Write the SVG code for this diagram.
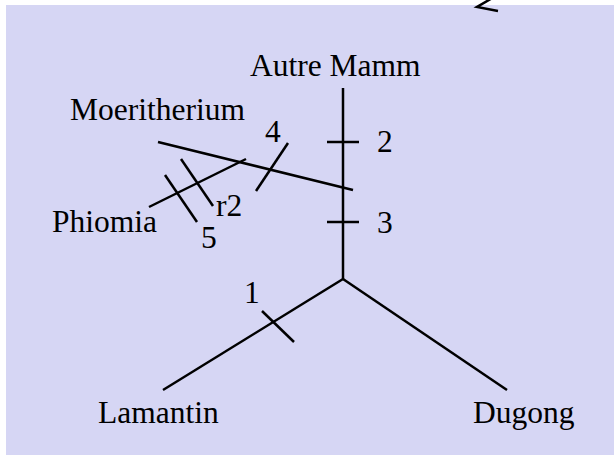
<svg xmlns="http://www.w3.org/2000/svg" width="615" height="455" viewBox="0 0 615 455">
<style>
.bg{fill:#d6d6f4}
.e{stroke:#000;stroke-width:2.5;fill:none;stroke-linecap:butt}
text{font-family:"Liberation Serif","Times New Roman",serif;font-size:31.5px;fill:#000}
</style>
<rect class="bg" x="6" y="5" width="608" height="455"/>
<polyline class="e" points="494,-3 477,7 498,11" stroke-width="3"/>
<g id="connectors">
<line class="e" x1="343" y1="88" x2="343" y2="279"/>
<line class="e" x1="343" y1="279" x2="163" y2="390"/>
<line class="e" x1="343" y1="279" x2="507" y2="390"/>
<line class="e" x1="158" y1="142" x2="353" y2="190"/>
<line class="e" x1="149" y1="207" x2="246" y2="159"/>
<line class="e" x1="327" y1="142" x2="359" y2="142"/>
<line class="e" x1="327" y1="222" x2="359" y2="222"/>
<line class="e" x1="262" y1="311" x2="294" y2="342"/>
<line class="e" x1="288" y1="143" x2="256" y2="191"/>
<line class="e" x1="181" y1="159" x2="213" y2="206"/>
<line class="e" x1="165" y1="175" x2="197" y2="222"/>
</g>
<g id="autre"><text x="250" y="76">Autre Mamm</text></g>
<g id="moeritherium"><text x="70" y="120">Moeritherium</text></g>
<g id="phiomia"><text x="52" y="232">Phiomia</text></g>
<g id="lamantin"><text x="98" y="423">Lamantin</text></g>
<g id="dugong"><text x="473" y="423">Dugong</text></g>
<g id="labels">
<text x="377" y="152">2</text>
<text x="377" y="233">3</text>
<text x="265" y="142">4</text>
<text x="216" y="216">r2</text>
<text x="201" y="248">5</text>
<text x="244" y="303">1</text>
</g>
</svg>
